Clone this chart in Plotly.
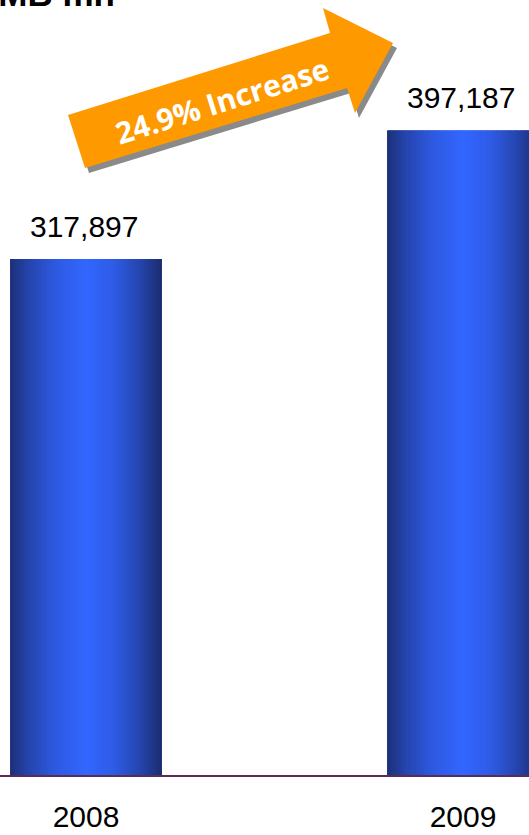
import plotly.graph_objects as go

# ---- data ----
years = ["2008", "2009"]
revenue = [317897, 397187]
value_labels = ["317,897", "397,187"]
growth_label = "24.9% Increase"
unit_label = "RMB mn"

# ---- figure geometry (pixels) ----
W, H = 529, 835
MARGIN_B = 60
PLOT_H = H - MARGIN_B

BAR_W = 0.403          # bar width in category units
N_STRIPS = 64          # vertical strips used to shade each bar like a cylinder

# colour stops across the bar (left edge -> right edge)
stops = [
    (0.00, (28, 48, 120)),
    (0.12, (37, 68, 172)),
    (0.30, (46, 90, 225)),
    (0.50, (51, 102, 255)),
    (0.68, (47, 92, 230)),
    (0.86, (37, 68, 172)),
    (1.00, (27, 44, 110)),
]


def shade(t):
    for (t0, c0), (t1, c1) in zip(stops, stops[1:]):
        if t0 <= t <= t1:
            f = (t - t0) / (t1 - t0)
            r, g, b = (round(a + (b_ - a) * f) for a, b_ in zip(c0, c1))
            return f"rgb({r},{g},{b})"
    return "rgb(27,44,110)"


fig = go.Figure()

step = BAR_W / N_STRIPS
for i in range(N_STRIPS):
    fig.add_trace(go.Bar(
        x=years,
        y=revenue,
        width=step * 1.6 if i < N_STRIPS - 1 else step,
        offset=-BAR_W / 2 + i * step,
        marker=dict(color=shade((i + 0.5) / N_STRIPS), line=dict(width=0)),
        hoverinfo="skip",
        showlegend=False,
    ))

# value labels above the bars (x given as category index)
for idx, (val, lab) in enumerate(zip(revenue, value_labels)):
    fig.add_annotation(
        x=idx, y=val, text=lab, showarrow=False,
        xanchor="center", yanchor="bottom", yshift=14, xshift=-2,
        font=dict(family="Liberation Sans, Arial", size=30, color="black"),
    )


def px(x, y):
    return x / W, 1 - y / PLOT_H


def path(points, dx=0, dy=0):
    pts = [px(x + dx, y + dy) for x, y in points]
    return "M " + " L ".join(f"{a:.5f},{b:.5f}" for a, b in pts) + " Z"


# growth arrow outline (pixels)
arrow = [(68, 115), (330, 33), (323, 8), (393, 43), (355, 113), (347, 88), (85, 168)]

fig.add_shape(type="path", xref="paper", yref="paper", path=path(arrow, 4, 5),
              fillcolor="#8a8a8a", line=dict(width=0), layer="above")
fig.add_shape(type="path", xref="paper", yref="paper", path=path(arrow),
              fillcolor="#FF9900", line=dict(width=0), layer="above")

cx, cy = px(222, 100)
fig.add_annotation(
    x=cx, y=cy, xref="paper", yref="paper", text=growth_label, showarrow=False,
    textangle=-17.4, xanchor="center", yanchor="middle",
    font=dict(family="Open Sans", size=30, color="white", weight="bold"),
)

# unit label at the top-left, partly cropped by the page edge
ux, uy = px(117, -7)
fig.add_annotation(
    x=ux, y=uy, xref="paper", yref="paper", text="<b>" + unit_label + "</b>",
    showarrow=False, xanchor="right", yanchor="middle",
    font=dict(family="Liberation Sans, Arial", size=35, color="black"),
)

fig.update_layout(
    width=W, height=H,
    margin=dict(l=0, r=0, t=0, b=MARGIN_B, autoexpand=False),
    paper_bgcolor="white", plot_bgcolor="white",
    barmode="overlay",
    xaxis=dict(
        type="category",
        range=[-86 / 377, (W - 86) / 377],
        automargin=False,
        showgrid=False, zeroline=False,
        showline=True, linecolor="#5a2b55", linewidth=2,
        ticks="", ticklabelstandoff=14,
        tickfont=dict(family="Liberation Sans, Arial", size=30, color="black"),
    ),
    yaxis=dict(
        range=[0, PLOT_H * revenue[0] / 516],
        automargin=False,
        visible=False, showgrid=False, zeroline=False,
    ),
)

fig.write_html("out.html")
